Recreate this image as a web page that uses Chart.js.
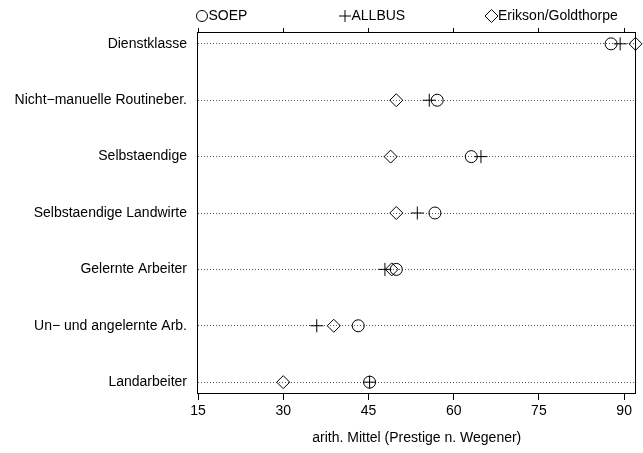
<!DOCTYPE html>
<html>
<head>
<meta charset="utf-8">
<script src="https://cdn.jsdelivr.net/npm/chart.js@4.4.1/dist/chart.umd.min.js"></script>
<style>
  html, body { margin: 0; padding: 0; background: #fff; }
</style>
</head>
<body>
<canvas id="myChart" width="643" height="453"></canvas>
<script>
// categories from top to bottom
var categories = ['Dienstklasse', 'Nicht\u2212manuelle Routineber.', 'Selbstaendige', 'Selbstaendige Landwirte',
  'Gelernte Arbeiter', 'Un\u2212 und angelernte Arb.', 'Landarbeiter'];
var soep = [87.7, 57.1, 63.1, 56.7, 49.9, 43.2, 45.2];
var allbus = [89.3, 55.7, 64.8, 53.6, 47.9, 35.9, 45.2];
var eriksonGoldthorpe = [92, 49.9, 48.9, 49.9, 49.1, 38.9, 30];
var xTicks = [15, 30, 45, 60, 75, 90];
var seriesNames = ['SOEP', 'ALLBUS', 'Erikson/Goldthorpe'];

Chart.defaults.font.family = "'Liberation Sans', Arial, sans-serif";
Chart.defaults.font.size = 14;
Chart.defaults.color = '#000';

function toPoints(values) {
  return values.map(function (v, i) { return { x: v, y: i }; });
}

// box around the plot + legend on top
var framePlugin = {
  id: 'frame',
  beforeDatasetsDraw: function (chart) {
    var ctx = chart.ctx, a = chart.chartArea;
    ctx.save();
    ctx.strokeStyle = '#000';
    ctx.lineWidth = 1;
    ctx.strokeRect(Math.round(a.left) - 0.5, Math.round(a.top) + 0.5,
      Math.round(a.right - a.left), Math.round(a.bottom - a.top) - 1);
    ctx.restore();
  },
  afterDraw: function (chart) {
    var ctx = chart.ctx, a = chart.chartArea;
    var offsets = [4, 147, 293.5];
    var y = 16;
    ctx.save();
    ctx.strokeStyle = '#000';
    ctx.lineWidth = 1;
    ctx.fillStyle = '#000';
    ctx.font = "14px 'Liberation Sans', Arial, sans-serif";
    ctx.textBaseline = 'middle';
    seriesNames.forEach(function (name, i) {
      var cx = a.left + offsets[i];
      ctx.beginPath();
      if (i === 0) {
        ctx.arc(cx, y, 5.5, 0, Math.PI * 2);
      } else if (i === 1) {
        ctx.moveTo(cx - 6, y); ctx.lineTo(cx + 6, y);
        ctx.moveTo(cx, y - 6); ctx.lineTo(cx, y + 6);
      } else {
        ctx.moveTo(cx - 6.5, y); ctx.lineTo(cx, y - 6.5);
        ctx.lineTo(cx + 6.5, y); ctx.lineTo(cx, y + 6.5); ctx.closePath();
      }
      ctx.stroke();
      ctx.fillText(name, cx + 6.5, y + 0.5);
    });
    ctx.restore();
  }
};

var ctx = document.getElementById('myChart');
var chart = new Chart(ctx, {
  type: 'scatter',
  data: {
    datasets: [{
      label: seriesNames[0],
      data: toPoints(soep),
      pointStyle: 'circle',
      pointRadius: 6,
      borderColor: '#000',
      backgroundColor: 'transparent',
      borderWidth: 1
    }, {
      label: seriesNames[1],
      data: toPoints(allbus),
      pointStyle: 'cross',
      pointRadius: 6.5,
      borderColor: '#000',
      backgroundColor: 'transparent',
      borderWidth: 1
    }, {
      label: seriesNames[2],
      data: toPoints(eriksonGoldthorpe),
      pointStyle: 'rectRot',
      pointRadius: 6.5,
      borderColor: '#000',
      backgroundColor: 'transparent',
      borderWidth: 1
    }]
  },
  options: {
    responsive: false,
    animation: false,
    devicePixelRatio: 1,
    clip: false,
    layout: { padding: { right: 7 } },
    plugins: {
      legend: { display: false },
      tooltip: { enabled: false }
    },
    elements: { point: { hoverRadius: 6 } },
    scales: {
      x: {
        type: 'linear',
        position: 'bottom',
        min: 15,
        max: 92,
        afterBuildTicks: function (s) { s.ticks = xTicks.map(function (v) { return { value: v }; }); },
        ticks: { padding: 3, maxRotation: 0, autoSkip: false },
        grid: { drawOnChartArea: false, tickLength: 6, color: '#000' },
        border: { display: false },
        title: {
          display: true,
          text: 'arith. Mittel (Prestige n. Wegener)',
          padding: { top: 0, bottom: 6 }
        },
        afterFit: function (s) { s.height = 59; }
      },
      x2: {
        type: 'linear',
        position: 'top',
        min: 15,
        max: 92,
        afterBuildTicks: function (s) { s.ticks = xTicks.map(function (v) { return { value: v }; }); },
        ticks: { display: false },
        grid: { drawOnChartArea: false, tickLength: 4, color: '#000' },
        border: { display: false },
        afterFit: function (s) { s.height = 32; }
      },
      y: {
        type: 'linear',
        min: -0.21,
        max: 6.21,
        reverse: true,
        afterBuildTicks: function (s) { s.ticks = categories.map(function (c, i) { return { value: i }; }); },
        ticks: {
          padding: 11,
          autoSkip: false,
          callback: function (v) { return categories[v]; }
        },
        grid: { drawTicks: false, color: '#555' },
        border: { display: false, dash: [1, 2] },
        afterFit: function (s) { s.width = 198; }
      }
    }
  },
  plugins: [framePlugin]
});
</script>
</body>
</html>
